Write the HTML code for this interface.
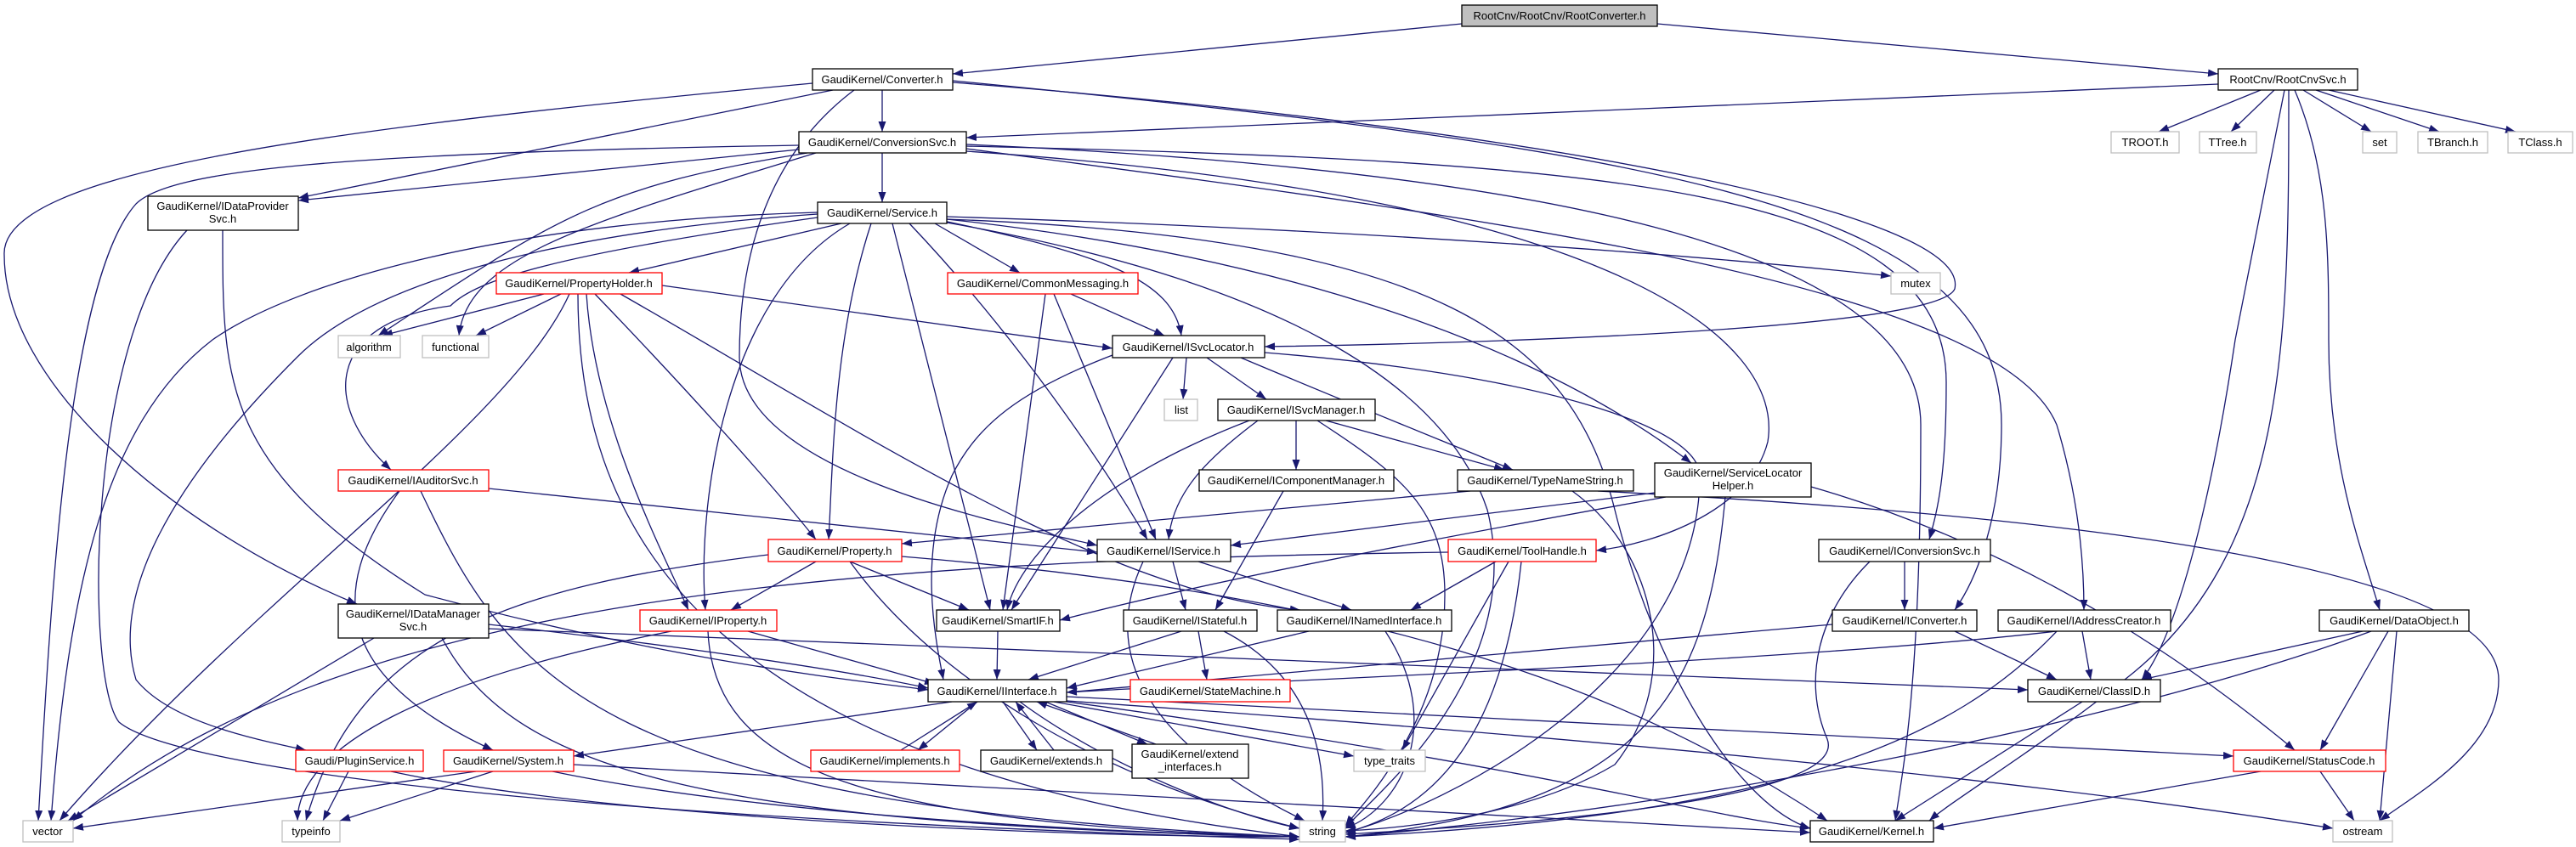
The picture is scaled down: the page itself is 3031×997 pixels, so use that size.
<!DOCTYPE html>
<html><head><meta charset="utf-8"><style>
html,body{margin:0;padding:0;background:#fff;}
svg{display:block;}
text{font-family:"Liberation Sans",sans-serif;font-size:13px;fill:#000;text-anchor:middle;}
.e{fill:none;stroke:#191970;stroke-width:1.3;marker-end:url(#a);}
.b{fill:#fff;stroke:#000;stroke-width:1.3;}
.r{fill:#fff;stroke:#f00;stroke-width:1.3;}
.g{fill:#fff;stroke:#bfbfbf;stroke-width:1.3;}
</style></head><body>
<svg width="3031" height="997" viewBox="0 0 3031 997" xmlns="http://www.w3.org/2000/svg">
<defs><marker id="a" markerUnits="userSpaceOnUse" markerWidth="12" markerHeight="9" refX="12" refY="4.5" orient="auto"><path d="M0,0 L12,4.5 L0,9 z" fill="#191970"/></marker></defs>
<g>
<path class="e" d="M1720,28 L1121,87"/>
<path class="e" d="M1950,28 L2610,87"/>
<path class="e" d="M1038,106 L1038,155"/>
<path class="e" d="M980,106 L351,233"/>
<path class="e" d="M956,98 C400,150 0,200 5,300 C5,450 200,620 420,711"/>
<path class="e" d="M1005,106 C880,200 870,350 870,420 C870,560 1200,620 1291,642"/>
<path class="e" d="M1121,97 C1800,150 2320,250 2300,340 C2280,390 1700,405 1488,408"/>
<path class="e" d="M1121,95 C2000,180 2355,250 2355,500 C2355,620 2320,690 2300,718"/>
<path class="e" d="M2660,106 L2540,155"/>
<path class="e" d="M2676,106 L2625,155"/>
<path class="e" d="M2710,106 L2790,155"/>
<path class="e" d="M2725,106 L2870,155"/>
<path class="e" d="M2740,106 L2960,155"/>
<path class="e" d="M2610,99 L1137,162"/>
<path class="e" d="M2688,106 L2630,400 C2600,600 2560,750 2520,800"/>
<path class="e" d="M2700,106 C2740,200 2740,300 2740,400 C2740,550 2780,650 2800,718"/>
<path class="e" d="M2693,106 C2693,400 2693,650 2500,800 C2400,880 2300,940 2270,966"/>
<path class="e" d="M1038,180 L1038,238"/>
<path class="e" d="M940,176 L351,236"/>
<path class="e" d="M940,171 C400,180 200,200 160,240 C80,330 60,700 45,966"/>
<path class="e" d="M950,180 C700,220 650,260 445,395"/>
<path class="e" d="M960,180 C700,260 550,300 540,395"/>
<path class="e" d="M1137,172 C1900,190 2290,220 2290,450 C2290,560 2280,600 2270,635"/>
<path class="e" d="M1137,175 C1700,250 2350,330 2420,500 C2450,600 2452,680 2452,718"/>
<path class="e" d="M1137,170 C1800,200 2260,290 2260,500 C2260,800 2240,900 2230,966"/>
<path class="e" d="M990,263 L740,321"/>
<path class="e" d="M1100,263 L1200,321"/>
<path class="e" d="M1110,260 C1300,300 1380,330 1390,395"/>
<path class="e" d="M1070,263 C1200,400 1300,550 1350,635"/>
<path class="e" d="M1050,263 L1165,718"/>
<path class="e" d="M1025,263 C980,400 980,550 975,635"/>
<path class="e" d="M1000,263 C850,350 820,600 830,718"/>
<path class="e" d="M962,256 C650,300 560,330 530,360 C380,380 380,480 460,553"/>
<path class="e" d="M962,252 C700,270 450,320 350,420 C200,570 130,700 160,800 C200,850 300,870 360,883"/>
<path class="e" d="M962,250 C600,260 350,330 250,400 C120,500 80,700 60,966"/>
<path class="e" d="M1114,255 C1600,270 2000,300 2225,325"/>
<path class="e" d="M1114,258 C1500,300 1800,400 1990,545"/>
<path class="e" d="M1137,178 C1900,230 2100,400 2080,520 C2060,600 1950,640 1878,648"/>
<path class="e" d="M1114,262 C1500,330 1700,450 1750,600 C1800,800 1600,950 1583,975"/>
<path class="e" d="M1114,258 C1700,280 1850,400 1900,600 C1950,800 2050,950 2130,975"/>
<path class="e" d="M640,346 L450,395"/>
<path class="e" d="M660,346 L560,395"/>
<path class="e" d="M779,336 L1309,410"/>
<path class="e" d="M670,346 C600,500 300,700 70,966"/>
<path class="e" d="M700,346 C800,450 900,560 960,635"/>
<path class="e" d="M690,346 C700,500 780,650 810,718"/>
<path class="e" d="M680,346 C680,600 800,900 1529,985"/>
<path class="e" d="M730,346 C1000,500 1300,700 1530,718"/>
<path class="e" d="M1260,346 L1370,395"/>
<path class="e" d="M1230,346 L1180,718"/>
<path class="e" d="M1240,346 L1360,635"/>
<path class="e" d="M1396,421 L1392,470"/>
<path class="e" d="M1420,421 L1490,470"/>
<path class="e" d="M1460,421 C1600,480 1700,520 1780,553"/>
<path class="e" d="M1309,418 C1200,460 1150,500 1120,560 C1080,650 1100,750 1110,800"/>
<path class="e" d="M1380,421 L1190,718"/>
<path class="e" d="M1488,415 C1800,440 2000,500 2000,560 C2000,800 1700,950 1583,980"/>
<path class="e" d="M1525,495 L1525,553"/>
<path class="e" d="M1560,495 L1770,553"/>
<path class="e" d="M1480,495 C1420,540 1380,580 1375,635"/>
<path class="e" d="M1470,495 C1300,560 1200,650 1185,718"/>
<path class="e" d="M1550,495 C1650,560 1700,600 1700,700 C1700,850 1600,950 1583,972"/>
<path class="e" d="M1510,578 L1430,718"/>
<path class="e" d="M1730,578 L1061,640"/>
<path class="e" d="M1850,578 C1950,650 1980,800 1900,900 C1800,960 1650,975 1583,978"/>
<path class="e" d="M1880,578 C2300,600 2940,650 2940,800 C2940,880 2850,930 2800,966"/>
<path class="e" d="M1947,580 L1448,642"/>
<path class="e" d="M1960,585 C1600,650 1400,690 1247,730"/>
<path class="e" d="M2030,585 C2010,800 1950,950 1583,985"/>
<path class="e" d="M2131,573 C2400,650 2600,800 2700,883"/>
<path class="e" d="M575,575 L1291,650"/>
<path class="e" d="M470,578 C380,700 400,800 580,883"/>
<path class="e" d="M495,578 C600,800 700,950 1529,985"/>
<path class="e" d="M960,661 L860,718"/>
<path class="e" d="M1000,661 L1140,718"/>
<path class="e" d="M904,653 C600,690 420,750 360,966"/>
<path class="e" d="M1061,655 C1600,700 1900,800 2150,966"/>
<path class="e" d="M1000,661 C1100,800 1300,920 1529,975"/>
<path class="e" d="M1380,661 L1395,718"/>
<path class="e" d="M1410,661 L1590,718"/>
<path class="e" d="M1345,661 C1280,800 1400,900 1535,966"/>
<path class="e" d="M1760,661 L1660,718"/>
<path class="e" d="M1775,661 L1650,883"/>
<path class="e" d="M1790,661 C1770,850 1700,950 1583,980"/>
<path class="e" d="M1704,650 C1000,660 400,700 86,966"/>
<path class="e" d="M2241,661 L2241,718"/>
<path class="e" d="M2200,661 C2140,720 2120,800 2150,870 C2180,950 1700,975 1583,982"/>
<path class="e" d="M575,735 C800,760 1000,790 1092,810"/>
<path class="e" d="M575,740 C1500,780 2000,800 2386,812"/>
<path class="e" d="M440,751 L80,966"/>
<path class="e" d="M520,751 C600,900 800,970 1529,985"/>
<path class="e" d="M262,271 C262,450 260,550 500,700 C800,780 1000,800 1092,812"/>
<path class="e" d="M220,271 C100,400 100,800 140,850 C200,900 600,960 1529,988"/>
<path class="e" d="M880,743 L1100,805"/>
<path class="e" d="M833,743 C840,900 1000,970 1529,985"/>
<path class="e" d="M790,743 C500,800 350,880 350,966"/>
<path class="e" d="M1174,743 L1173,800"/>
<path class="e" d="M1390,743 L1210,800"/>
<path class="e" d="M1410,743 L1420,800"/>
<path class="e" d="M1440,743 C1550,800 1560,900 1556,966"/>
<path class="e" d="M1540,743 L1255,810"/>
<path class="e" d="M1630,743 C1700,850 1650,950 1583,975"/>
<path class="e" d="M1120,826 L675,890"/>
<path class="e" d="M1150,826 L1080,883"/>
<path class="e" d="M1180,826 L1220,883"/>
<path class="e" d="M1230,826 L1350,876"/>
<path class="e" d="M1240,826 L1593,890"/>
<path class="e" d="M1200,826 C1300,900 1450,960 1529,975"/>
<path class="e" d="M1255,820 L2628,890"/>
<path class="e" d="M1255,826 C1800,900 2000,960 2130,975"/>
<path class="e" d="M1255,825 C1900,870 2400,920 2745,975"/>
<path class="e" d="M1060,883 L1150,826"/>
<path class="e" d="M1240,883 L1195,826"/>
<path class="e" d="M1360,876 L1220,826"/>
<path class="e" d="M560,908 L86,975"/>
<path class="e" d="M580,908 L400,966"/>
<path class="e" d="M650,908 C900,960 1300,980 1529,985"/>
<path class="e" d="M675,900 L2130,980"/>
<path class="e" d="M410,908 L380,966"/>
<path class="e" d="M460,908 C700,960 1200,985 1529,985"/>
<path class="e" d="M2156,735 L1255,815"/>
<path class="e" d="M2300,743 L2420,800"/>
<path class="e" d="M2420,743 C2100,780 1500,800 1255,815"/>
<path class="e" d="M2450,743 L2460,800"/>
<path class="e" d="M2420,743 C2300,870 2100,960 1583,985"/>
<path class="e" d="M2780,743 L2520,800"/>
<path class="e" d="M2810,743 L2730,883"/>
<path class="e" d="M2820,743 L2800,966"/>
<path class="e" d="M2790,743 C2500,850 2000,950 1583,985"/>
<path class="e" d="M2450,826 L2230,966"/>
<path class="e" d="M2660,908 L2275,975"/>
<path class="e" d="M2730,908 L2770,966"/>
</g>
<g>
<rect x="1720" y="6" width="230" height="25" fill="#bfbfbf" stroke="#000" stroke-width="1.3"/><text x="1835" y="23">RootCnv/RootCnv/RootConverter.h</text>
<rect class="b" x="956" y="81" width="165" height="25"/><text x="1038" y="98">GaudiKernel/Converter.h</text>
<rect class="b" x="2610" y="81" width="164" height="25"/><text x="2692" y="98">RootCnv/RootCnvSvc.h</text>
<rect class="b" x="940" y="155" width="197" height="25"/><text x="1038" y="172">GaudiKernel/ConversionSvc.h</text>
<rect class="g" x="2484" y="155" width="80" height="25"/><text x="2524" y="172">TROOT.h</text>
<rect class="g" x="2588" y="155" width="67" height="25"/><text x="2621" y="172">TTree.h</text>
<rect class="g" x="2780" y="155" width="40" height="25"/><text x="2800" y="172">set</text>
<rect class="g" x="2845" y="155" width="82" height="25"/><text x="2886" y="172">TBranch.h</text>
<rect class="g" x="2951" y="155" width="76" height="25"/><text x="2989" y="172">TClass.h</text>
<rect class="b" x="174" y="231" width="177" height="40"/><text x="262" y="247">GaudiKernel/IDataProvider</text><text x="262" y="262">Svc.h</text>
<rect class="b" x="962" y="238" width="152" height="25"/><text x="1038" y="255">GaudiKernel/Service.h</text>
<rect class="r" x="584" y="321" width="195" height="25"/><text x="681" y="338">GaudiKernel/PropertyHolder.h</text>
<rect class="r" x="1115" y="321" width="224" height="25"/><text x="1227" y="338">GaudiKernel/CommonMessaging.h</text>
<rect class="g" x="2225" y="321" width="58" height="25"/><text x="2254" y="338">mutex</text>
<rect class="g" x="398" y="395" width="73" height="26"/><text x="434" y="413">algorithm</text>
<rect class="g" x="497" y="395" width="78" height="26"/><text x="536" y="413">functional</text>
<rect class="b" x="1309" y="395" width="179" height="26"/><text x="1398" y="413">GaudiKernel/ISvcLocator.h</text>
<rect class="g" x="1370" y="470" width="39" height="25"/><text x="1390" y="487">list</text>
<rect class="b" x="1433" y="470" width="185" height="25"/><text x="1525" y="487">GaudiKernel/ISvcManager.h</text>
<rect class="r" x="398" y="553" width="177" height="25"/><text x="486" y="570">GaudiKernel/IAuditorSvc.h</text>
<rect class="b" x="1411" y="553" width="229" height="25"/><text x="1525" y="570">GaudiKernel/IComponentManager.h</text>
<rect class="b" x="1715" y="553" width="207" height="25"/><text x="1818" y="570">GaudiKernel/TypeNameString.h</text>
<rect class="b" x="1947" y="545" width="184" height="40"/><text x="2039" y="561">GaudiKernel/ServiceLocator</text><text x="2039" y="576">Helper.h</text>
<rect class="r" x="904" y="635" width="157" height="26"/><text x="982" y="653">GaudiKernel/Property.h</text>
<rect class="b" x="1291" y="635" width="157" height="26"/><text x="1369" y="653">GaudiKernel/IService.h</text>
<rect class="r" x="1704" y="635" width="174" height="26"/><text x="1791" y="653">GaudiKernel/ToolHandle.h</text>
<rect class="b" x="2140" y="635" width="202" height="26"/><text x="2241" y="653">GaudiKernel/IConversionSvc.h</text>
<rect class="b" x="398" y="711" width="177" height="40"/><text x="486" y="727">GaudiKernel/IDataManager</text><text x="486" y="742">Svc.h</text>
<rect class="r" x="753" y="718" width="161" height="25"/><text x="833" y="735">GaudiKernel/IProperty.h</text>
<rect class="b" x="1102" y="718" width="145" height="25"/><text x="1174" y="735">GaudiKernel/SmartIF.h</text>
<rect class="b" x="1322" y="718" width="157" height="25"/><text x="1400" y="735">GaudiKernel/IStateful.h</text>
<rect class="b" x="1503" y="718" width="205" height="25"/><text x="1605" y="735">GaudiKernel/INamedInterface.h</text>
<rect class="b" x="2156" y="718" width="170" height="25"/><text x="2241" y="735">GaudiKernel/IConverter.h</text>
<rect class="b" x="2351" y="718" width="203" height="25"/><text x="2452" y="735">GaudiKernel/IAddressCreator.h</text>
<rect class="b" x="2729" y="718" width="176" height="25"/><text x="2817" y="735">GaudiKernel/DataObject.h</text>
<rect class="b" x="1092" y="800" width="163" height="26"/><text x="1173" y="818">GaudiKernel/IInterface.h</text>
<rect class="r" x="1330" y="800" width="188" height="26"/><text x="1424" y="818">GaudiKernel/StateMachine.h</text>
<rect class="b" x="2386" y="800" width="156" height="26"/><text x="2464" y="818">GaudiKernel/ClassID.h</text>
<rect class="r" x="348" y="883" width="150" height="25"/><text x="423" y="900">Gaudi/PluginService.h</text>
<rect class="r" x="522" y="883" width="153" height="25"/><text x="598" y="900">GaudiKernel/System.h</text>
<rect class="r" x="954" y="883" width="175" height="25"/><text x="1041" y="900">GaudiKernel/implements.h</text>
<rect class="b" x="1154" y="883" width="155" height="25"/><text x="1231" y="900">GaudiKernel/extends.h</text>
<rect class="b" x="1332" y="876" width="137" height="40"/><text x="1400" y="892">GaudiKernel/extend</text><text x="1400" y="907">_interfaces.h</text>
<rect class="g" x="1593" y="883" width="84" height="25"/><text x="1635" y="900">type_traits</text>
<rect class="r" x="2628" y="883" width="179" height="25"/><text x="2717" y="900">GaudiKernel/StatusCode.h</text>
<rect class="g" x="27" y="966" width="59" height="25"/><text x="56" y="983">vector</text>
<rect class="g" x="332" y="966" width="68" height="25"/><text x="366" y="983">typeinfo</text>
<rect class="g" x="1529" y="966" width="54" height="25"/><text x="1556" y="983">string</text>
<rect class="b" x="2130" y="966" width="145" height="25"/><text x="2202" y="983">GaudiKernel/Kernel.h</text>
<rect class="g" x="2745" y="966" width="70" height="25"/><text x="2780" y="983">ostream</text>
</g>
</svg>
</body></html>
